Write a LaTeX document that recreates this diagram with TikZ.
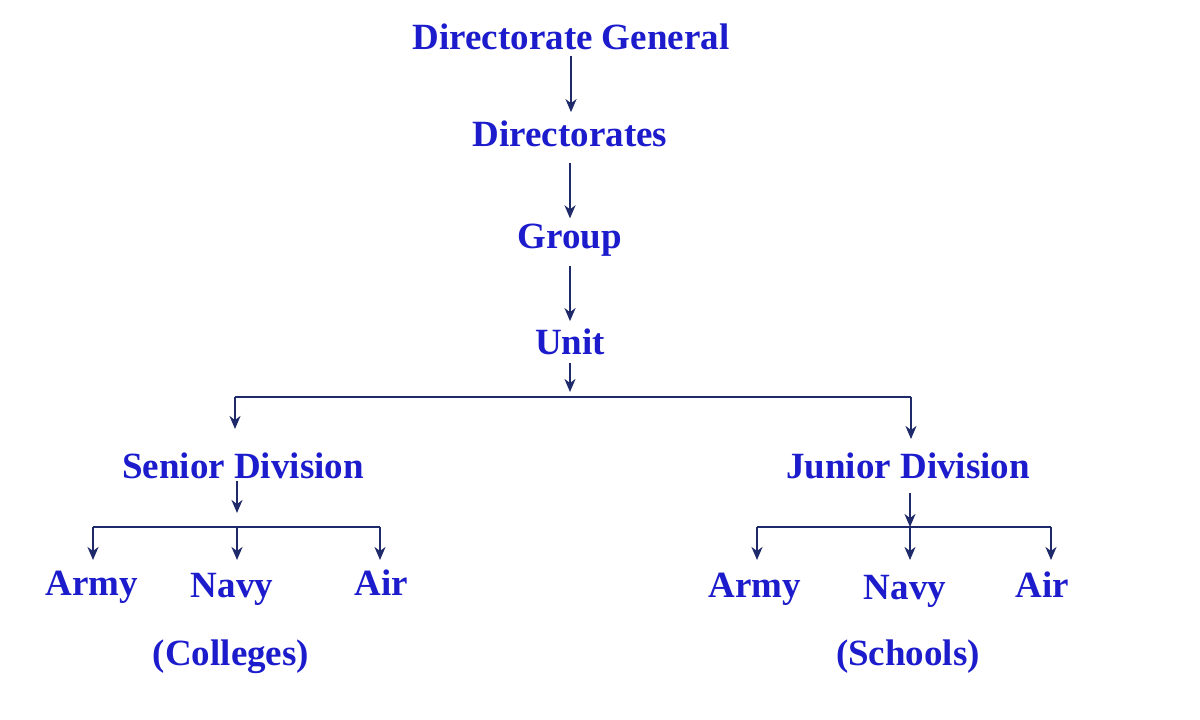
\documentclass[tikz,border=0pt]{standalone}
\usepackage{fontspec}
\setmainfont{Liberation Serif}
\usetikzlibrary{arrows.meta}
\definecolor{txtblue}{HTML}{1C1CCC}
\definecolor{navyline}{HTML}{1F2A6B}
\begin{document}
\begin{tikzpicture}[x=1pt,y=-1pt,
  lbl/.style={text=txtblue,font=\fontsize{37}{40}\selectfont\bfseries,inner sep=0pt,anchor=base},
  conn/.style={draw=navyline,line width=1.8pt},
  arr/.style={conn,-{Stealth[length=13pt,width=11pt,inset=4pt]}}]
\useasboundingbox[fill=white] (0,0) rectangle (1200,720);
% nodes
\node[lbl] (dg)   at (571,49)  {Directorate General};
\node[lbl] (dirs) at (570,146) {Directorates};
\node[lbl] (grp)  at (570,248) {Group};
\node[lbl] (unit) at (570,354) {Unit};
\node[lbl] (sen)  at (243,478) {Senior Division};
\node[lbl] (jun)  at (908,478) {Junior Division};
\node[lbl] (sa)   at (92,595)  {Army};
\node[lbl] (sn)   at (232,597) {Navy};
\node[lbl] (sair) at (381,595) {Air};
\node[lbl] (col)  at (231,665) {(Colleges)};
\node[lbl] (ja)   at (755,597) {Army};
\node[lbl] (jn)   at (905,599) {Navy};
\node[lbl] (jair) at (1042,597){Air};
\node[lbl] (sch)  at (908,665) {(Schools)};
% junction coordinates
\coordinate (uj) at (570,397);
\coordinate (sl) at (235,397);
\coordinate (jr) at (911,397);
\coordinate (sj) at (237,527);
\coordinate (sjl) at (93,527);
\coordinate (sjr) at (380,527);
\coordinate (jj) at (910,527);
\coordinate (jjl) at (757,527);
\coordinate (jjr) at (1051,527);
% vertical chain
\draw[arr,shorten <=6pt,shorten >=8pt] (dg.south -| 571,0) -- (dirs.north -| 571,0);
\draw[arr,shorten <=16pt,shorten >=5pt] (dirs.south) -- (grp.north);
\draw[arr,shorten <=10pt,shorten >=7pt] (grp.south) -- (unit.north);
\draw[arr,shorten <=8pt,shorten >=5pt] (unit.south) -- (uj);
% unit split
\draw[conn] (sl) -- (jr);
\draw[arr] (sl) -- ++(0,32);
\draw[arr] (jr) -- ++(0,42);
% senior
\draw[arr] (237,481) -- (237,513);
\draw[conn] (sjl) -- (sjr);
\draw[arr] (sjl) -- ++(0,33);
\draw[arr] (sj) -- ++(0,33);
\draw[arr] (sjr) -- ++(0,33);
% junior
\draw[arr] (910,493) -- (jj);
\draw[conn] (jjl) -- (jjr);
\draw[arr] (jjl) -- ++(0,33);
\draw[arr] (jj) -- ++(0,33);
\draw[arr] (jjr) -- ++(0,33);
\end{tikzpicture}
\end{document}
